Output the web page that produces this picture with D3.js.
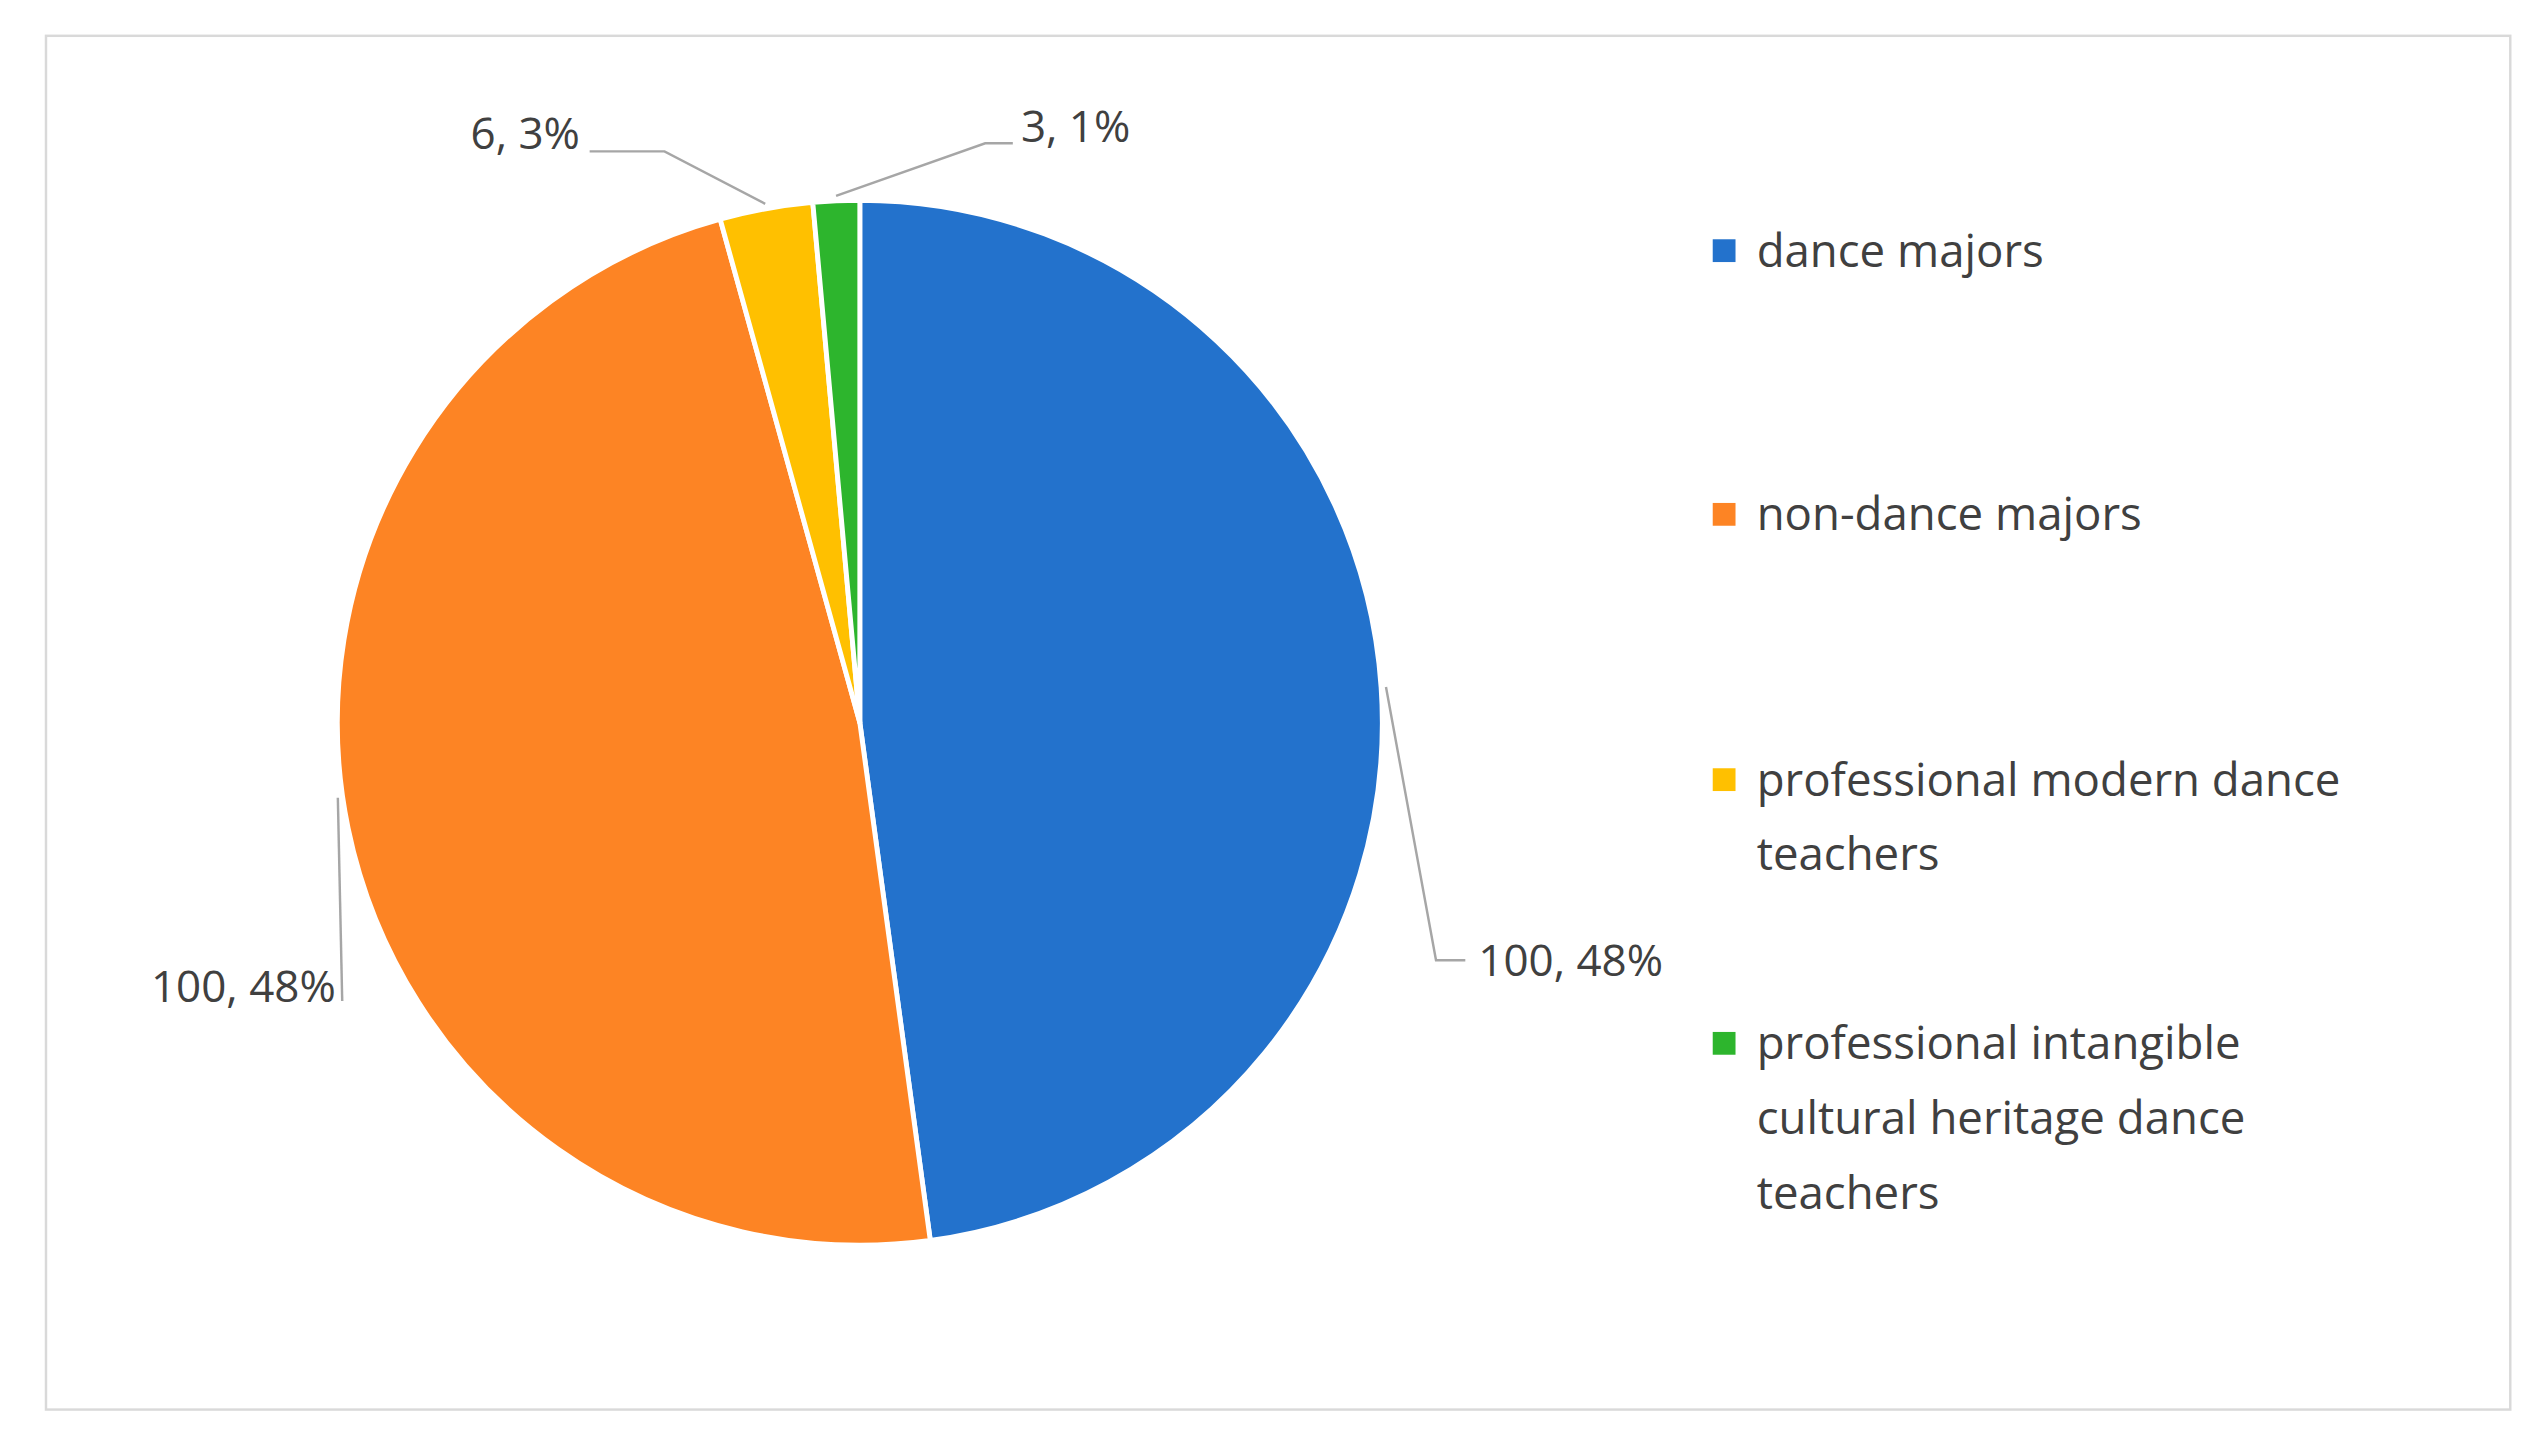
<!DOCTYPE html>
<html>
<head>
<meta charset="utf-8">
<script src="https://cdn.jsdelivr.net/npm/d3@7"></script>
<style>
  html, body { margin: 0; padding: 0; background: #fff; }
  svg { display: block; }
</style>
</head>
<body>
<svg id="chart" width="2540" height="1447" viewBox="0 0 1560 889"></svg>
<script>
'use strict';

// chart data
var categories = ['dance majors', 'non-dance majors', 'professional modern dance teachers', 'professional intangible cultural heritage dance teachers'];
var counts = [100, 100, 6, 3];
var percents = ['48%', '48%', '3%', '1%'];
var colors = ['#2372cc', '#fd8424', '#ffc000', '#2db52d'];
var legendLines = [['dance majors'], ['non-dance majors'], ['professional modern dance', 'teachers'], ['professional intangible', 'cultural heritage dance', 'teachers']];

var svg = d3.select('#chart');
var font = '"Open Sans", "Noto Sans", sans-serif';

svg.append('rect')
	.attr('x', 28).attr('y', 22).attr('width', 1514).attr('height', 844)
	.attr('fill', '#fff').attr('stroke', '#d9d9d9').attr('stroke-width', 1.5);

var cx = 528, cy = 444, r = 321;
var g = svg.append('g').attr('transform', 'translate(' + cx + ',' + cy + ')');

var pie = d3.pie().sort(null).value(function(d) { return d; });
var arcs = pie(counts);
var arc = d3.arc().innerRadius(0).outerRadius(r);

g.selectAll('path.slice')
	.data(arcs)
	.join('path')
	.attr('class', 'slice')
	.attr('d', arc)
	.attr('fill', function(d, i) { return colors[i]; })
	.attr('stroke', '#fff')
	.attr('stroke-width', 3)
	.attr('stroke-linejoin', 'round');

// leader lines, positioned off the slice angles
function pt(a, rr) { return [Math.sin(a) * rr, -Math.cos(a) * rr]; }
var mid = arcs.map(function(d) { return (d.startAngle + d.endAngle) / 2; });

var labels = [
	{ i: 0, pts: [pt(mid[0], r + 3), [354, 146], [372, 146]], tx: 380, ty: 146, anchor: 'start' },
	{ i: 1, pts: [pt(mid[1] + 0.06, r + 3), [-318, 171]], tx: -322, ty: 162, anchor: 'end' },
	{ i: 2, pts: [pt(mid[2], r + 3), [-120, -351], [-166, -351]], tx: -172, ty: -362, anchor: 'end' },
	{ i: 3, pts: [pt(mid[3], r + 3), [77, -356], [94, -356]], tx: 99, ty: -366, anchor: 'start' }
];

g.selectAll('polyline.leader')
	.data(labels)
	.join('polyline')
	.attr('class', 'leader')
	.attr('points', function(d) { return d.pts.map(function(p) { return p.join(','); }).join(' '); })
	.attr('fill', 'none')
	.attr('stroke', '#a6a6a6')
	.attr('stroke-width', 1.5);

g.selectAll('text.lbl')
	.data(labels)
	.join('text')
	.attr('class', 'lbl')
	.attr('x', function(d) { return d.tx; })
	.attr('y', function(d) { return d.ty; })
	.attr('dy', '0.35em')
	.attr('text-anchor', function(d) { return d.anchor; })
	.attr('font-family', font)
	.attr('font-size', 27)
	.attr('fill', '#404040')
	.text(function(d) { return counts[d.i] + ', ' + percents[d.i]; });

// legend
var legendY = [154, 316, 479, 641];
var lg = svg.append('g').selectAll('g').data(categories).join('g')
	.attr('transform', function(d, i) { return 'translate(1052,' + legendY[i] + ')'; });

lg.append('rect')
	.attr('x', 0).attr('y', -7).attr('width', 14).attr('height', 14)
	.attr('fill', function(d, i) { return colors[i]; });

lg.append('text')
	.attr('font-family', font)
	.attr('font-size', 28)
	.attr('fill', '#404040')
	.selectAll('tspan')
	.data(function(d, i) { return legendLines[i]; })
	.join('tspan')
	.attr('x', 27)
	.attr('y', function(d, j) { return j * 46; })
	.attr('dy', '0.35em')
	.text(function(d) { return d; });
</script>
</body>
</html>
